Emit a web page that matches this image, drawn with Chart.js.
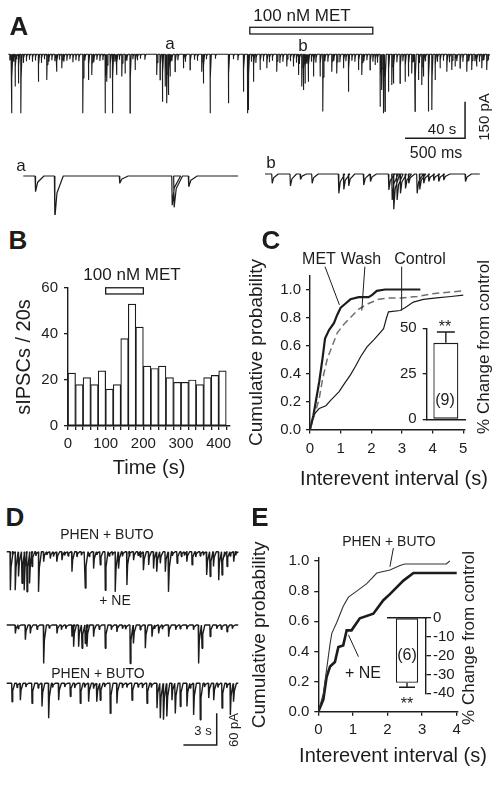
<!DOCTYPE html>
<html>
<head>
<meta charset="utf-8">
<title>MET / NE sIPSC figure</title>
<script src="https://cdn.jsdelivr.net/npm/chart.js@4.4.1/dist/chart.umd.min.js"></script>
<style>
  html, body { margin: 0; background: #fff; }
  #fig { position: relative; width: 503px; height: 787px; overflow: hidden;
         font-family: "Liberation Sans", Arial, Helvetica, sans-serif; color: #1c1c1c; }
  #fig canvas { position: absolute; }
  .txt { position: absolute; white-space: nowrap; line-height: 1; transform: translate(-50%, -50%); }
  .rot { transform: translate(-50%, -50%) rotate(-90deg); }
  .big { font-weight: bold; }
</style>
</head>
<body>
<div id="fig"></div>
<script>
'use strict';

// ---------- data ----------

// A: continuous recording, events as [time (s), amplitude (pA)]
var traceAEvents = [
  [2.2,241],[4.5,132],[6.7,119],[8.3,241],[20.0,112],[25.6,105],[32.2,71],[35.6,57],
  [49.6,241],[53.4,105],[55.6,85],[64.5,241],[65.6,112],[67.8,98],[69.4,241],[72.2,85],
  [75.6,91],[77.8,78],[81.1,241],[84.5,64],[98.9,85],[101.1,105],[102.7,194],[104.5,132],
  [105.6,200],[106.7,166],[107.8,91],[111.1,71],[116.7,57],[121.1,64],[128.9,71],[130.0,119],
  [134.5,241],[146.7,200],[156.7,153],[159.4,241],[160.0,228],[163.4,112],[167.8,64],[172.3,57],
  [178.9,71],[185.6,50],[190.0,50],[193.4,85],[195.6,132],[196.7,146],[197.8,119],[200.0,112],
  [203.4,91],[207.8,91],[209.6,234],[215.6,71],[218.9,78],[223.4,57],[226.7,153],[233.4,64],
  [235.6,85],[241.1,64],[244.5,44],[247.8,214],[248.9,146],[250.0,241],[251.1,234],[253.4,153],
  [255.6,125],[256.7,119],[261.1,119],[264.5,112],[266.7,91],[268.9,78],[271.1,234],[273.4,105],
  [275.6,125],[276.7,91],[280.0,234],[282.3,228],[284.5,105],[287.8,57],[292.3,71],[295.6,64],
  [297.8,50],[301.1,57],[305.6,71],[308.9,64],[312.2,50],[315.6,57],[318.9,64]
];
var traceASmall = [
  [1,25],[3.5,30],[5.5,20],[10,35],[12,28],[14,22],[16,30],[18,25],[22,35],[24,20],[27,30],
  [29,24],[31,28],[34,22],[37,30],[39,26],[41,20],[43,32],[45,24],[47,28],[51,25],[57,30],
  [59,22],[61,27],[63,24],[71,30],[74,22],[79,26],[83,20],[86,24],[88,18],[91,22],[109,28],
  [113,24],[118,30],[124,22],[126,26],[132,20],[138,18],[150,20],[153,24],[162,30],[165,35],
  [170,28],[174,32],[176,26],[181,36],[183,30],[188,28],[192,34],[194,40],[199,38],[202,30],
  [205,34],[211,28],[213,30],[217,26],[221,32],[225,28],[229,26],[231,30],[237,28],[239,24],
  [243,30],[246,34],[259,32],[263,28],[270,30],[274,36],[278,28],[286,30],[290,26],[294,32],
  [299,28],[303,30],[307,26],[311,28],[314,30],[317,24],[320,22]
];
var traceAEnd = 321;
var metA = [161, 243];                 // MET application over the recording (s)

// A, expanded segments a and b: [time (s), amplitude (pA)]
var traceAa = [[0.098,64],[0.259,173],[0.8,30],[1.237,119],[1.253,128],[1.375,44]];
var traceAb = [
  [0.056,38],[0.208,49],[0.292,22],[0.389,38],[0.611,79],[0.653,63],[0.694,49],[0.819,45],
  [0.875,31],[1.028,65],[1.056,106],[1.069,144],[1.097,106],[1.125,79],[1.167,59],[1.194,38],
  [1.264,79],[1.286,63],[1.319,38],[1.361,31],[1.403,27],[1.444,31],[1.486,25],[1.667,31]
];
var traceExpEnd = 1.79;

// B: sIPSC counts per 20 s bin
var binStart = [0,20,40,60,80,100,120,140,160,180,200,220,240,260,280,300,320,340,360,380,400];
var sipscCounts = [23,18,21,18,24,16,18,38,53,43,26,25,26,21,19,19,20,18,21,22,24];
var metB = [100, 200];

// C: cumulative interevent-interval distributions [interval (s), probability]
var metCurve = [[0,0],[0.11,0.1],[0.19,0.2],[0.3,0.34],[0.41,0.51],[0.49,0.65],[0.62,0.71],
  [0.78,0.76],[0.89,0.82],[1.0,0.87],[1.16,0.9],[1.32,0.93],[1.59,0.945],[1.91,0.945],
  [2.02,0.96],[2.18,0.99],[2.45,1.0],[3.6,1.0]];
var washCurve = [[0,0],[0.14,0.1],[0.3,0.22],[0.41,0.36],[0.57,0.51],[0.73,0.6],[0.89,0.69],
  [1.1,0.75],[1.32,0.8],[1.59,0.86],[1.91,0.9],[2.24,0.93],[2.56,0.94],[3.0,0.94],[3.5,0.95],
  [4.0,0.97],[4.5,0.98],[5.0,0.99]];
var controlCurve = [[0,0],[0.14,0.11],[0.3,0.15],[0.52,0.17],[0.68,0.21],[0.95,0.27],[1.1,0.32],
  [1.32,0.39],[1.48,0.45],[1.65,0.52],[1.86,0.59],[2.08,0.64],[2.24,0.68],[2.4,0.72],[2.5,0.8],
  [2.56,0.84],[2.94,0.85],[3.1,0.87],[3.37,0.91],[3.7,0.93],[4.13,0.94],[4.6,0.95],[5.0,0.96]];
var changeC = [42], changeCErr = [6];

// D: traces, [time (s), amplitude (pA)]
var traceD1 = [
  [0.3,73],[0.75,73],[1.05,47],[1.35,60],[1.56,73],[1.8,76],[2.04,60],[2.25,28],[2.85,76],
  [3.3,19],[3.9,13],[4.5,19],[4.95,16],[5.85,38],[7.05,69],[7.8,32],[8.4,25],[8.85,73],
  [9.76,76],[10.06,32],[10.8,63],[11.4,16],[12.3,35],[12.76,25],[13.2,32],[13.5,38],[13.81,22],
  [14.26,38],[14.56,76],[15.32,22],[16.2,19],[16.67,25],[18.0,44],[18.3,47],[18.6,28],[19.07,54],
  [19.37,44],[19.82,28],[20.42,19],
  [0.5,7],[2.6,8],[3.6,6],[4.2,9],[5.2,7],[5.5,8],[6.3,10],[6.7,7],[7.4,9],[8.1,6],[9.2,8],
  [9.5,7],[10.4,9],[11.0,8],[11.8,7],[12.0,10],[14.9,8],[15.7,9],[16.0,7],[17.0,10],[17.4,8],
  [17.7,7],[19.6,9],[20.1,8],[20.6,7]
];
var traceD2 = [
  [0.75,16],[1.65,28],[2.1,16],[3.3,73],[4.5,16],[5.85,22],[6.0,41],[6.45,41],[6.76,44],[7.05,35],
  [7.2,41],[7.8,22],[8.85,44],[9.9,13],[11.1,73],[11.4,35],[12.46,44],[13.06,22],[13.66,16],
  [14.56,22],[17.26,73],[17.57,44],[18.3,22],[19.82,13],
  [1.0,7],[2.7,8],[3.8,6],[4.9,9],[5.3,7],[8.3,8],[9.4,9],[10.4,7],[10.7,8],[12.0,9],[13.3,7],
  [14.0,8],[15.2,9],[15.6,7],[16.2,8],[16.8,9],[18.9,7],[19.3,8],[20.3,7]
];
var traceD3 = [
  [0.45,35],[1.2,32],[2.25,38],[3.15,44],[3.75,66],[4.65,32],[5.7,25],[6.6,38],[7.35,35],[8.1,35],
  [8.4,32],[9.3,57],[9.9,38],[11.26,32],[12.61,38],[13.51,47],[13.81,66],[14.11,69],[14.41,63],
  [14.86,32],[15.16,57],[15.61,44],[16.21,44],[16.81,60],[17.41,69],[18.17,28],[18.62,32],
  [19.37,47],[20.12,60],[20.42,35],
  [0.9,8],[1.7,7],[2.8,9],[4.1,8],[5.2,7],[6.1,9],[7.0,8],[7.8,10],[8.8,7],[10.4,9],[10.8,8],
  [11.8,7],[12.2,9],[13.0,8],[16.5,9],[17.8,7],[19.0,8],[19.8,9]
];
var traceDEnd = 20.86;

// E: cumulative interevent-interval distributions
var phenCurve = [[0,0],[0.145,0.12],[0.34,0.45],[0.39,0.52],[0.53,0.59],[0.72,0.7],[0.87,0.76],
  [1.11,0.8],[1.4,0.85],[1.69,0.92],[2.07,0.94],[2.36,0.97],[2.5,0.98],[3.7,0.98],[3.8,1.0]];
var neCurve = [[0,0],[0.145,0.08],[0.24,0.23],[0.34,0.3],[0.48,0.33],[0.58,0.43],[0.72,0.44],
  [0.82,0.54],[0.96,0.54],[1.2,0.62],[1.59,0.65],[1.88,0.74],[2.07,0.78],[2.46,0.87],[2.75,0.92],
  [4.0,0.92]];
var changeE = [-34.4], changeEErr = [2.4];

// scale bars: [seconds, pA]
var scaleA = [40, 150];
var scaleD = [3, 60];

// ---------- drawing ----------
var ink = '#1c1c1c';
var fig = document.getElementById('fig');

Chart.defaults.font.family = '"Liberation Sans", Arial, Helvetica, sans-serif';
Chart.defaults.color = ink;
Chart.defaults.animation = false;
Chart.defaults.responsive = false;
Chart.defaults.devicePixelRatio = 1;
Chart.defaults.plugins.legend.display = false;
Chart.defaults.plugins.tooltip.enabled = false;

function mk(box) {
  var c = document.createElement('canvas');
  c.width = box[2]; c.height = box[3];
  c.style.left = box[0] + 'px'; c.style.top = box[1] + 'px';
  c.style.width = box[2] + 'px'; c.style.height = box[3] + 'px';
  fig.appendChild(c);
  return c;
}

function xy(pairs) {
  return pairs.map(function (p) { return {x: p[0], y: p[1]}; });
}

// each event: onset, peak, partial recovery, back to baseline
function tracePts(events, end, rise, decay) {
  var ev = events.slice().sort(function (a, b) { return a[0] - b[0]; });
  var pts = [{x: 0, y: 0}];
  ev.forEach(function (e) {
    pts.push({x: e[0], y: 0}, {x: e[0] + rise, y: -e[1]},
             {x: e[0] + rise + decay * 0.25, y: -e[1] * 0.4},
             {x: e[0] + rise + decay, y: 0});
  });
  pts.push({x: end, y: 0});
  return pts;
}

// lay = {box, x0, yb, kx (px/s), ky (px/pA)}
function traceChart(lay, pts, lw, plugins) {
  var b = lay.box;
  return new Chart(mk(b), {
    type: 'line',
    data: {datasets: [{data: pts, borderColor: ink, borderWidth: lw, pointRadius: 0,
                       tension: 0, borderJoinStyle: 'bevel', clip: false}]},
    options: {
      layout: {padding: 0},
      scales: {
        x: {type: 'linear', display: false, min: (b[0] - lay.x0) / lay.kx, max: (b[0] + b[2] - lay.x0) / lay.kx},
        y: {type: 'linear', display: false, min: -(b[1] + b[3] - lay.yb) / lay.ky, max: (lay.yb - b[1]) / lay.ky}
      }
    },
    plugins: plugins || []
  });
}

function scaleBarPlugin(sec, pA, tEnd, yLow) {
  return {id: 'scalebar', afterDatasetsDraw: function (chart) {
    var x = chart.scales.x, y = chart.scales.y, ctx = chart.ctx;
    ctx.save();
    ctx.strokeStyle = ink; ctx.lineWidth = 1.5;
    ctx.beginPath();
    ctx.moveTo(x.getPixelForValue(tEnd - sec), y.getPixelForValue(yLow));
    ctx.lineTo(x.getPixelForValue(tEnd), y.getPixelForValue(yLow));
    ctx.lineTo(x.getPixelForValue(tEnd), y.getPixelForValue(yLow + pA));
    ctx.stroke();
    ctx.restore();
  }};
}

function drugBoxPlugin(span, yTop, yBottom) {
  return {id: 'drugbox', afterDatasetsDraw: function (chart) {
    var x = chart.scales.x, y = chart.scales.y, ctx = chart.ctx;
    var x1 = x.getPixelForValue(span[0]), x2 = x.getPixelForValue(span[1]);
    var y1 = y.getPixelForValue(yTop), y2 = y.getPixelForValue(yBottom);
    ctx.save();
    ctx.fillStyle = '#fff'; ctx.strokeStyle = ink; ctx.lineWidth = 1.3;
    ctx.fillRect(x1, y1, x2 - x1, y2 - y1);
    ctx.strokeRect(x1, y1, x2 - x1, y2 - y1);
    ctx.restore();
  }};
}

function leaderPlugin(lines) {
  return {id: 'leaders', afterDatasetsDraw: function (chart) {
    var x = chart.scales.x, y = chart.scales.y, ctx = chart.ctx;
    ctx.save();
    ctx.strokeStyle = ink; ctx.lineWidth = 1;
    lines.forEach(function (l) {
      ctx.beginPath();
      ctx.moveTo(x.getPixelForValue(l[0]), y.getPixelForValue(l[1]));
      ctx.lineTo(x.getPixelForValue(l[2]), y.getPixelForValue(l[3]));
      ctx.stroke();
    });
    ctx.restore();
  }};
}

function errorBarPlugin(errs, cap) {
  return {id: 'errbars', afterDatasetsDraw: function (chart) {
    var meta = chart.getDatasetMeta(0), y = chart.scales.y, ctx = chart.ctx;
    var vals = chart.data.datasets[0].data;
    ctx.save();
    ctx.strokeStyle = ink; ctx.lineWidth = 1.4;
    meta.data.forEach(function (bar, i) {
      var v = vals[i], e = v >= 0 ? v + errs[i] : v - errs[i];
      var y1 = y.getPixelForValue(v), y2 = y.getPixelForValue(e);
      ctx.beginPath();
      ctx.moveTo(bar.x, y1); ctx.lineTo(bar.x, y2);
      ctx.moveTo(bar.x - cap / 2, y2); ctx.lineTo(bar.x + cap / 2, y2);
      ctx.stroke();
    });
    ctx.restore();
  }};
}

var tickFont = {size: 15};
var titleFont = {size: 19};
function gridStyle(len) {
  return {drawOnChartArea: false, tickLength: len, color: ink, lineWidth: 1.3};
}
var border = {color: ink, width: 1.4};

// ----- A -----
var kyA = 36.7 / 150;
var layA = {box: [8, 0, 485, 145], x0: 8.3, yb: 54.3, kx: 1.5, ky: kyA};
traceChart(layA, tracePts(traceAEvents.concat(traceASmall), traceAEnd, 0.05, 0.8), 1.1, [
  scaleBarPlugin(scaleA[0], scaleA[1], 304.5, -343.6),
  drugBoxPlugin(metA, 110.4, 83)
]);
traceChart({box: [18, 160, 226, 55], x0: 23.3, yb: 176, kx: 120, ky: kyA},
           tracePts(traceAa, traceExpEnd, 0.004, 0.07), 1.2);
traceChart({box: [260, 155, 226, 55], x0: 265, yb: 174, kx: 120, ky: kyA},
           tracePts(traceAb, traceExpEnd, 0.004, 0.05), 1.2);

// ----- B -----
new Chart(mk([0, 260, 250, 225]), {
  type: 'bar',
  data: {datasets: [{
    data: binStart.map(function (t, i) { return {x: t + 10, y: sipscCounts[i]}; }),
    backgroundColor: '#fff', borderColor: ink, borderWidth: 1.2, borderSkipped: false,
    barPercentage: 1, categoryPercentage: 1
  }]},
  options: {
    layout: {padding: {left: 0, top: 28, right: 20, bottom: 0}},
    scales: {
      x: {type: 'linear', min: 0, max: 430, offset: false,
          grid: Object.assign(gridStyle(4), {offset: false}), border: border,
          ticks: {stepSize: 20, includeBounds: false, autoSkip: false, maxRotation: 0, font: tickFont, padding: 5,
                  callback: function (v) { return v % 100 === 0 ? String(v) : ''; }},
          title: {display: true, text: 'Time (s)', font: {size: 20}, padding: {top: 0, bottom: 5}},
          afterFit: function (s) { s.height = 59; }},
      y: {min: 0, max: 60, grid: gridStyle(4), border: border,
          ticks: {stepSize: 20, autoSkip: false, font: tickFont, padding: 6},
          title: {display: true, text: 'sIPSCs / 20s', font: {size: 20}, padding: {top: 12}},
          afterFit: function (s) { s.width = 68; }}
    }
  },
  plugins: [drugBoxPlugin(metB, 60.1, 57.4)]
});

// ----- C -----
new Chart(mk([240, 255, 263, 240]), {
  type: 'line',
  data: {datasets: [
    {data: xy(controlCurve), borderColor: ink, borderWidth: 1.2, pointRadius: 0},
    {data: xy(washCurve), borderColor: '#707070', borderWidth: 1.5, borderDash: [7, 4], pointRadius: 0},
    {data: xy(metCurve), borderColor: ink, borderWidth: 2.2, pointRadius: 0}
  ]},
  options: {
    layout: {padding: {left: 0, top: 20.5, right: 38.2, bottom: 0}},
    scales: {
      x: {type: 'linear', min: 0, max: 5.05, grid: gridStyle(4), border: border,
          ticks: {stepSize: 1, includeBounds: false, autoSkip: false, maxRotation: 0, font: tickFont, padding: 6},
          afterFit: function (s) { s.height = 65.5; }},
      y: {min: 0, max: 1.1, grid: gridStyle(4), border: border,
          ticks: {stepSize: 0.2, includeBounds: false, autoSkip: false, font: tickFont, padding: 5,
                  callback: function (v) { return v.toFixed(1); }},
          title: {display: true, text: 'Cumulative probability', font: titleFont, padding: {top: 5}},
          afterFit: function (s) { s.width = 70; }}
    }
  },
  plugins: [leaderPlugin([[0.49, 1.163, 0.96, 0.89], [1.79, 1.163, 1.69, 0.85], [2.99, 1.163, 2.99, 0.85]])]
});

// C inset
new Chart(mk([380, 300, 123, 140]), {
  type: 'bar',
  data: {labels: ['MET'], datasets: [{data: changeC, backgroundColor: '#fff', borderColor: ink,
         borderWidth: 1.3, borderSkipped: false, barPercentage: 0.653, categoryPercentage: 1}]},
  options: {
    layout: {padding: {left: 0, top: 28.3, right: 38, bottom: 0}},
    scales: {
      x: {ticks: {display: false}, grid: {display: false}, border: border,
          afterFit: function (s) { s.height = 20.7; }},
      y: {min: 0, max: 50, grid: gridStyle(4), border: border,
          ticks: {stepSize: 25, autoSkip: false, font: tickFont, padding: 6},
          afterFit: function (s) { s.width = 46.7; }}
    }
  },
  plugins: [errorBarPlugin(changeCErr, 18)]
});

// ----- D -----
var kyD = 31.7 / 60;
traceChart({box: [5, 538, 236, 56], x0: 6.7, yb: 551.7, kx: 11.1, ky: kyD},
           tracePts(traceD1, traceDEnd, 0.03, 0.25), 1.4);
traceChart({box: [5, 612, 236, 56], x0: 6.7, yb: 625, kx: 11.1, ky: kyD},
           tracePts(traceD2, traceDEnd, 0.03, 0.25), 1.4);
traceChart({box: [5, 670, 236, 80], x0: 6.7, yb: 683.3, kx: 11.1, ky: kyD},
           tracePts(traceD3, traceDEnd, 0.03, 0.25), 1.4,
           [scaleBarPlugin(scaleD[0], scaleD[1], 18.92, -116.8)]);

// ----- E -----
new Chart(mk([240, 530, 263, 257]), {
  type: 'line',
  data: {datasets: [
    {data: xy(phenCurve), borderColor: '#333', borderWidth: 1.1, pointRadius: 0},
    {data: xy(neCurve), borderColor: ink, borderWidth: 2.6, pointRadius: 0}
  ]},
  options: {
    layout: {padding: {left: 0, top: 28, right: 45.6, bottom: 0}},
    scales: {
      x: {type: 'linear', min: 0, max: 4.02, grid: gridStyle(4), border: border,
          ticks: {stepSize: 1, includeBounds: false, autoSkip: false, maxRotation: 0, font: tickFont, padding: 5},
          afterFit: function (s) { s.height = 75.3; }},
      y: {min: 0, max: 1.02, grid: gridStyle(4), border: border,
          ticks: {stepSize: 0.2, includeBounds: false, autoSkip: false, font: tickFont, padding: 5,
                  callback: function (v) { return v.toFixed(1); }},
          title: {display: true, text: 'Cumulative probability', font: titleFont, padding: {top: 8}},
          afterFit: function (s) { s.width = 78.3; }}
    }
  },
  plugins: [leaderPlugin([[2.17, 1.086, 2.07, 0.962], [1.16, 0.365, 0.87, 0.51]])]
});

// E inset
new Chart(mk([370, 590, 133, 120]), {
  type: 'bar',
  data: {labels: ['NE'], datasets: [{data: changeE, backgroundColor: '#fff', borderColor: ink,
         borderWidth: 1.3, borderSkipped: false, barPercentage: 0.587, categoryPercentage: 1}]},
  options: {
    layout: {padding: {left: 18, top: 27.7, right: 0, bottom: 16.7}},
    scales: {
      x: {position: 'top', ticks: {display: false}, grid: {display: false}, border: border,
          afterFit: function (s) { s.height = 0; }},
      y: {position: 'right', min: -40, max: 0, grid: gridStyle(5), border: border,
          ticks: {stepSize: 10, autoSkip: false, font: tickFont, padding: 2},
          afterFit: function (s) { s.width = 77; }}
    }
  },
  plugins: [errorBarPlugin(changeEErr, 16)]
});

// ----- text -----
var labels = [
  ['A', 19, 26, 26, 'big'], ['100 nM MET', 302, 15, 17], ['a', 170, 43, 17], ['b', 303, 45, 17],
  ['40 s', 442, 128, 15], ['150 pA', 483, 117, 15, 'rot'], ['500 ms', 436, 153, 16],
  ['a', 21, 165, 17], ['b', 271, 162, 17],
  ['B', 18, 240, 26, 'big'], ['100 nM MET', 132, 274, 17],
  ['C', 271, 240, 26, 'big'], ['MET', 319, 259, 16], ['Wash', 361, 259, 16], ['Control', 420, 259, 16],
  ['Interevent interval (s)', 394, 478, 20], ['% Change from control', 483, 347, 17, 'rot'],
  ['**', 445, 327, 16], ['(9)', 445, 400, 16],
  ['D', 15, 517, 26, 'big'], ['PHEN + BUTO', 107, 534, 14], ['+ NE', 115, 600, 14],
  ['PHEN + BUTO', 98, 673, 14], ['3 s', 203, 730, 13], ['60 pA', 233, 730, 13, 'rot'],
  ['E', 260, 517, 26, 'big'], ['PHEN + BUTO', 389, 541, 14], ['+ NE', 363, 673, 16],
  ['Interevent interval (s)', 393, 755, 20], ['% Change from control', 468, 638, 17, 'rot'],
  ['(6)', 407, 655, 16], ['**', 407, 704, 16]
];
labels.forEach(function (l) {
  var d = document.createElement('div');
  d.className = 'txt' + (l[4] ? ' ' + l[4] : '');
  d.textContent = l[0];
  d.style.left = l[1] + 'px';
  d.style.top = l[2] + 'px';
  d.style.fontSize = l[3] + 'px';
  fig.appendChild(d);
});
</script>
</body>
</html>
